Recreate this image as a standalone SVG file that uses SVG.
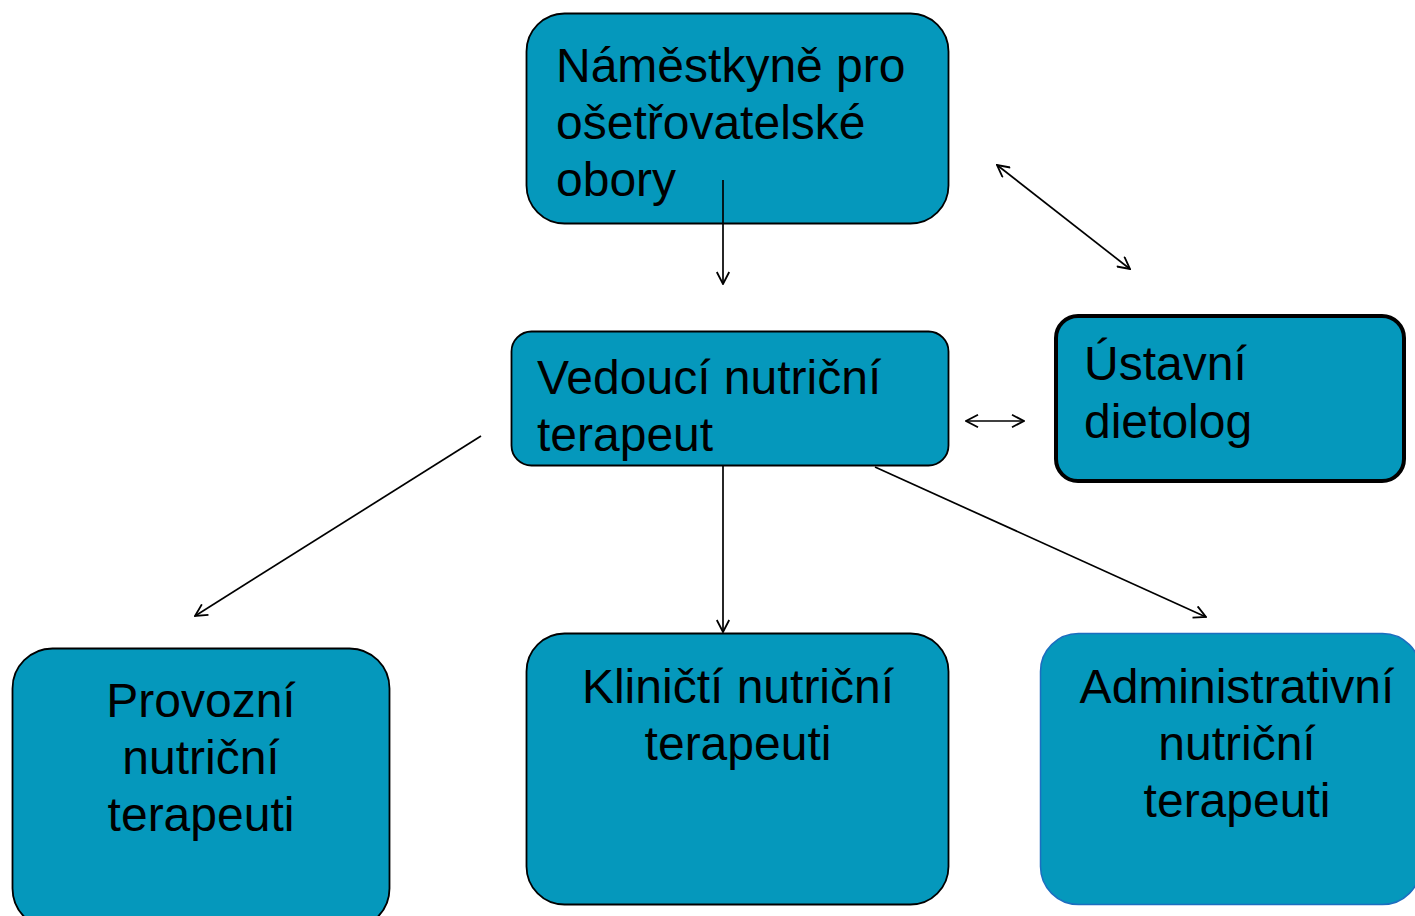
<svg xmlns="http://www.w3.org/2000/svg" width="1415" height="916" viewBox="0 0 1415 916">
<style>
.box{fill:#0598BC;stroke:#000;stroke-width:1.8}
.t{font-family:"Liberation Sans",Arial,sans-serif;font-size:48px;fill:#000}
.c{text-anchor:middle}
.ln{stroke:#000;stroke-width:1.7;fill:none;marker-end:url(#ah)}
.dbl{marker-start:url(#ah)}
</style>
<defs>
<marker id="ah" viewBox="0 0 14 14" refX="13" refY="7" markerWidth="14" markerHeight="14" markerUnits="userSpaceOnUse" orient="auto-start-reverse">
<path d="M1,0.8 L13,7 L1,13.2" fill="none" stroke="#000" stroke-width="1.8"/>
</marker>
</defs>
<rect width="1415" height="916" fill="#fff"/>
<g id="n1">
<rect class="box" x="526.5" y="13.5" width="422" height="210" rx="38"/>
<text class="t" x="556" y="82">Náměstkyně pro</text>
<text class="t" x="556" y="139">ošetřovatelské</text>
<text class="t" x="556" y="196">obory</text>
</g>
<g id="n2">
<rect class="box" x="511.5" y="331.5" width="437" height="134" rx="20"/>
<text class="t" x="537" y="394">Vedoucí nutriční</text>
<text class="t" x="537" y="451">terapeut</text>
</g>
<g id="n3">
<rect class="box" x="1056" y="316" width="348" height="165" rx="22" style="stroke-width:4"/>
<text class="t" x="1084" y="380">Ústavní</text>
<text class="t" x="1084" y="438">dietolog</text>
</g>
<g id="n4">
<rect class="box" x="12.5" y="648.5" width="377" height="280" rx="40"/>
<text class="t c" x="201" y="717">Provozní</text>
<text class="t c" x="201" y="774">nutriční</text>
<text class="t c" x="201" y="831">terapeuti</text>
</g>
<g id="n5">
<rect class="box" x="526.5" y="633.5" width="422" height="271" rx="38"/>
<text class="t c" x="738" y="703">Kliničtí nutriční</text>
<text class="t c" x="738" y="760">terapeuti</text>
</g>
<g id="n6">
<rect class="box" x="1040.5" y="633.5" width="380" height="271" rx="38" style="stroke:#1C6EC0;stroke-width:1.5"/>
<text class="t c" x="1237" y="703">Administrativní</text>
<text class="t c" x="1237" y="760">nutriční</text>
<text class="t c" x="1237" y="817">terapeuti</text>
</g>
<g id="connectors">
<line class="ln" x1="723" y1="180" x2="723" y2="284"/>
<line class="ln dbl" x1="997" y1="165" x2="1130" y2="269"/>
<line class="ln dbl" x1="966" y1="421" x2="1024" y2="421"/>
<line class="ln" x1="481" y1="436" x2="195" y2="616"/>
<line class="ln" x1="723" y1="466" x2="723" y2="632"/>
<line class="ln" x1="875" y1="467" x2="1206" y2="617"/>
</g>
</svg>
